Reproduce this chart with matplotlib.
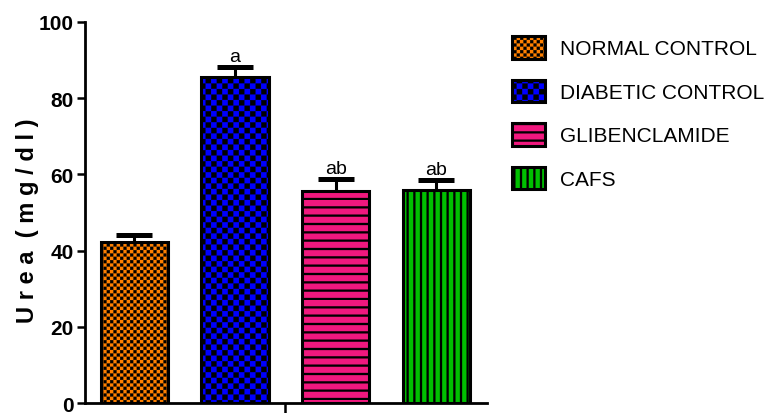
import numpy as np
import matplotlib
matplotlib.use("Agg")
import matplotlib.pyplot as plt
import matplotlib.hatch as mhatch
from matplotlib.path import Path

# Data
groups = ["NORMAL CONTROL", "DIABETIC CONTROL", "GLIBENCLAMIDE", "CAFS"]
urea = [42.4, 85.4, 55.6, 56.0]
sem = [1.6, 2.8, 3.1, 2.5]
letters = ["", "a", "ab", "ab"]
yticks = [0, 20, 40, 60, 80, 100]

colors = ["#FF8000", "#0000FF", "#F0187E", "#00C000"]
hatches = ["c", "k", "h", "v"]


# custom hatch patterns: checkerboards and stripes (tile = 1 inch)
class PrismHatch(mhatch.HatchPatternBase):
    def __init__(self, hatch, density):
        self.rects = []
        if "c" in hatch:
            self.rects = self.checker(30)
        elif "k" in hatch:
            self.rects = self.checker(18)
        elif "h" in hatch:
            n = 12
            self.rects = [(0, i / n, 1, i / n + 0.02) for i in range(n)]
        elif "v" in hatch:
            n = 15
            self.rects = [(i / n, 0, i / n + 0.02, 1) for i in range(n)]
        self.num_vertices = 5 * len(self.rects)

    @staticmethod
    def checker(n):
        s = 1.0 / n
        d = 0.002
        out = []
        for r in range(n):
            for c in range(n):
                if (r + c) % 2 == 0:
                    out.append((c * s + d, r * s + d, (c + 1) * s - d, (r + 1) * s - d))
        return out

    def set_vertices_and_codes(self, vertices, codes):
        for i, (x0, y0, x1, y1) in enumerate(self.rects):
            vertices[5 * i:5 * i + 5] = [(x0, y0), (x1, y0), (x1, y1), (x0, y1), (x0, y0)]
            codes[5 * i:5 * i + 5] = [Path.MOVETO, Path.LINETO, Path.LINETO,
                                      Path.LINETO, Path.CLOSEPOLY]


mhatch._hatch_types.append(PrismHatch)
mhatch._validate_hatch_pattern = lambda h: None
plt.rcParams["hatch.linewidth"] = 0.2
plt.rcParams["hatch.color"] = "black"

plt.rcParams["font.family"] = ["Liberation Sans", "DejaVu Sans"]

fig = plt.figure(figsize=(7.71, 4.14), dpi=100)
ax = fig.add_axes([0.1102, 0.0234, 0.5211, 0.9218])

x = np.arange(len(groups))
bars = ax.bar(x, urea, width=0.67, color=colors, edgecolor="black",
              linewidth=2.2, zorder=3)
for b, h in zip(bars, hatches):
    b.set_hatch(h)

eb = ax.errorbar(x, urea, yerr=[np.zeros(len(sem)), sem], fmt="none",
                 ecolor="black", elinewidth=2.2, capsize=13, capthick=3.6,
                 zorder=2)
for cap in eb[1]:
    if np.allclose(cap.get_ydata(), urea):
        cap.remove()

for xi, v, e, t in zip(x, urea, sem, letters):
    if t:
        ax.annotate(t, (xi, v + e), xytext=(0, 1.5), textcoords="offset points",
                    ha="center", va="bottom", fontsize=14)

ax.set_xlim(-0.49, 3.5)
ax.set_ylim(0, 100)
ax.set_yticks(yticks)
ax.set_yticklabels([str(t) for t in yticks], fontsize=15, fontweight="bold")
ax.set_xticks([1.5])
ax.set_xticklabels([""])
ax.tick_params(axis="y", length=6, width=1.8, pad=2)
ax.tick_params(axis="x", length=8, width=1.8)
for s in ["top", "right"]:
    ax.spines[s].set_visible(False)
for s in ["left", "bottom"]:
    ax.spines[s].set_linewidth(2)
ax.set_ylabel("U r e a  ( m g / d l )", fontsize=17, fontweight="bold",
              labelpad=8)
ax.yaxis.set_label_coords(-0.115, 0.48)

ax.legend(handles=list(bars), labels=groups, loc="upper left",
          bbox_to_anchor=(512 / 771, 1 - 37 / 414), bbox_transform=fig.transFigure,
          frameon=False, fontsize=15, handlelength=1.59, handleheight=1.3,
          handletextpad=0.72, labelspacing=1.0, borderpad=0, borderaxespad=0)

fig.savefig("out.png", dpi=100)
